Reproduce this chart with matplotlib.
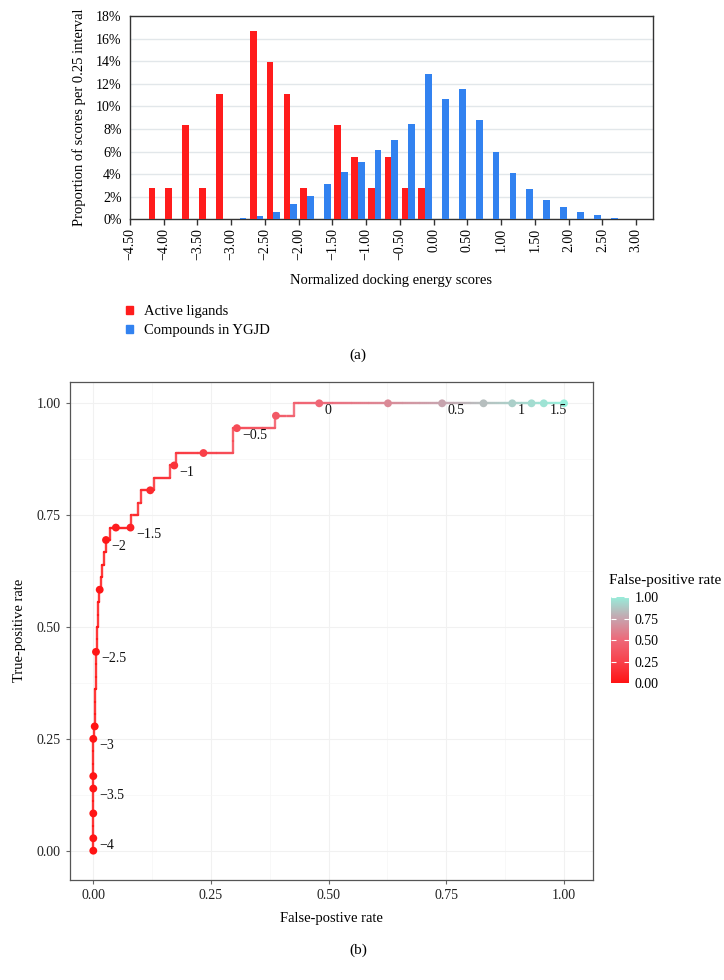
import numpy as np
import matplotlib
matplotlib.use('Agg')
import matplotlib.pyplot as plt
from matplotlib.colors import LinearSegmentedColormap
from matplotlib.collections import LineCollection
from matplotlib.patches import Patch

plt.rcParams['font.family'] = ['Liberation Serif', 'DejaVu Serif']

# ---- (a) histogram, 0.25 wide bins given by their lower edge ----
active_bins = [-4.25, -4.00, -3.75, -3.50, -3.25, -2.75, -2.50, -2.25, -2.00,
               -1.50, -1.25, -1.00, -0.75, -0.50, -0.25]
active_pct = [2.78, 2.78, 8.33, 2.78, 11.11, 16.67, 13.89, 11.11, 2.78,
              8.33, 5.56, 2.78, 5.56, 2.78, 2.78]
ygjd_bins = [-3.00, -2.75, -2.50, -2.25, -2.00, -1.75, -1.50, -1.25, -1.00, -0.75,
             -0.50, -0.25, 0.00, 0.25, 0.50, 0.75, 1.00, 1.25, 1.50, 1.75,
             2.00, 2.25, 2.50, 2.75]
ygjd_pct = [0.14, 0.29, 0.67, 1.38, 2.09, 3.12, 4.19, 5.04, 6.10, 7.04,
            8.43, 12.86, 10.67, 11.50, 8.79, 5.93, 4.10, 2.68, 1.68, 1.09,
            0.67, 0.38, 0.14, 0.03]
hist_ticks = [-4.5, -4.0, -3.5, -3.0, -2.5, -2.0, -1.5, -1.0, -0.5,
              0.0, 0.5, 1.0, 1.5, 2.0, 2.5, 3.0]
hist_ticklabels = ['\u22124.50', '\u22124.00', '\u22123.50', '\u22123.00', '\u22122.50',
                   '\u22122.00', '\u22121.50', '\u22121.00', '\u22120.50', '0.00',
                   '0.50', '1.00', '1.50', '2.00', '2.50', '3.00']
pct_ticks = [0, 2, 4, 6, 8, 10, 12, 14, 16, 18]

# ---- (b) ROC curve ----
n_active = 36
# false-positive rate at which each active ligand is recovered
step_fpr = [0, 0, 0, 0, 0, 0, 0, 0, 0, 0.002, 0.0035, 0.004, 0.0045, 0.005,
            0.0053, 0.0056, 0.007, 0.008, 0.010, 0.011, 0.013, 0.016, 0.019,
            0.022, 0.026, 0.036, 0.081, 0.095, 0.102, 0.130, 0.162, 0.175,
            0.296, 0.296, 0.386, 0.426]
# cutoff points (-4.25 ... 1.75 every 0.25)
point_fpr = [0, 0, 0, 0, 0, 0, 0.003, 0.0057, 0.0136, 0.027, 0.048, 0.079,
             0.121, 0.172, 0.234, 0.305, 0.388, 0.480, 0.626, 0.741, 0.829,
             0.890, 0.931, 0.957, 1.0]
point_tp = [0, 1, 3, 5, 6, 9, 10, 16, 21, 25, 26, 26, 29, 31, 32, 34, 35,
            36, 36, 36, 36, 36, 36, 36, 36]
point_labels = ['', '\u22124', '', '\u22123.5', '', '\u22123', '', '\u22122.5', '',
                '\u22122', '', '\u22121.5', '', '\u22121', '', '\u22120.5', '',
                '0', '', '0.5', '', '1', '', '1.5', '']
roc_ticks = [0, 0.25, 0.5, 0.75, 1.0]
roc_ticklabels = ['0.00', '0.25', '0.50', '0.75', '1.00']

red = '#ff1c1c'
blue = '#3282f0'
fpr_cmap = LinearSegmentedColormap.from_list(
  'fpr', [(0, '#ff1414'), (0.25, '#f8424c'), (0.5, '#ee6a7a'), (0.75, '#c6a6b0'), (1, '#96f0dc')])

W, H = 724, 980
fig = plt.figure(figsize=(W/100., H/100.), dpi=100)

def px_axes(l, t, r, b):
  return fig.add_axes([l/float(W), 1-b/float(H), (r-l)/float(W), (b-t)/float(H)])

# ================= (a) =================
ax = px_axes(130, 16, 653, 219.3)
ax.bar(np.array(active_bins)+0.125-0.05, active_pct, width=0.1, color=red, zorder=3)
ax.bar(np.array(ygjd_bins)+0.125+0.05, ygjd_pct, width=0.1, color=blue, zorder=3)
ax.set_xlim(-4.5, 3.25)
ax.set_ylim(0, 18)
ax.set_yticks(pct_ticks)
ax.set_yticklabels(['%d%%' % v for v in pct_ticks])
ax.set_xticks(hist_ticks)
ax.set_xticklabels(hist_ticklabels, rotation=90)
ax.yaxis.grid(True, color='#e2e7ea', lw=1, zorder=0)
ax.set_axisbelow(True)
for s in ax.spines.values():
  s.set_color('#333333'); s.set_linewidth(1)
ax.tick_params(axis='x', length=4, width=1, color='#333333', labelsize=10, pad=2)
ax.tick_params(axis='y', length=0, labelsize=10, pad=6)
ax.set_ylabel('Proportion of scores per 0.25 interval', fontsize=10.5, labelpad=7)
ax.set_xlabel('Normalized docking energy scores', fontsize=10.5, labelpad=10)

fig.legend(handles=[Patch(color=red, label='Active ligands'),
                    Patch(color=blue, label='Compounds in YGJD')],
           loc='upper left', bbox_to_anchor=(126/float(W), 1-305/float(H)),
           frameon=False, fontsize=10.5, handlelength=0.5, handleheight=0.5,
           handletextpad=0.75, labelspacing=0.4, borderpad=0, borderaxespad=0)
fig.text(358/float(W), 1-355/float(H), '(a)', fontsize=11, ha='center', va='center')

# ================= (b) =================
ax2 = px_axes(70, 381.7, 593, 880)
# step path of the ROC curve
vx = [0.0]; vy = [0.0]
for i, f in enumerate(step_fpr):
  vx += [f, f]; vy += [i/float(n_active), (i+1)/float(n_active)]
vx.append(1.0); vy.append(1.0)
segs = []; cols = []
for x0, y0, x1, y1 in zip(vx[:-1], vy[:-1], vx[1:], vy[1:]):
  n = max(1, int(abs(x1-x0)/0.004))
  xs = np.linspace(x0, x1, n+1); ys = np.linspace(y0, y1, n+1)
  for j in range(n):
    segs.append([(xs[j], ys[j]), (xs[j+1], ys[j+1])])
    cols.append(fpr_cmap((xs[j]+xs[j+1])/2.))
lc = LineCollection(segs, colors=cols, linewidths=1.7, alpha=0.85, capstyle='round', zorder=2)
ax2.add_collection(lc)
point_tpr = np.array(point_tp)/float(n_active)
ax2.scatter(point_fpr, point_tpr, c=point_fpr, cmap=fpr_cmap, vmin=0, vmax=1,
            s=32, edgecolors='none', zorder=3)
for f, t, l in zip(point_fpr, point_tpr, point_labels):
  if l:
    ax2.annotate(l, (f, t), xytext=(4, -5), textcoords='offset points',
                 ha='left', va='center', fontsize=10, color='#111111')
ax2.set_xlim(-0.0495, 1.0616)
ax2.set_ylim(-0.0655, 1.0483)
ax2.set_xticks(roc_ticks); ax2.set_xticklabels(roc_ticklabels)
ax2.set_yticks(roc_ticks); ax2.set_yticklabels(roc_ticklabels)
ax2.set_xticks([0.125, 0.375, 0.625, 0.875], minor=True)
ax2.set_yticks([0.125, 0.375, 0.625, 0.875], minor=True)
ax2.grid(True, which='major', color='#f1f1f1', lw=0.8, zorder=0)
ax2.grid(True, which='minor', color='#f6f6f6', lw=0.5, zorder=0)
ax2.tick_params(which='minor', length=0)
ax2.tick_params(which='major', length=3, width=0.8, color='#666666', labelsize=10, labelcolor='#222222')
for s in ax2.spines.values():
  s.set_color('#555555'); s.set_linewidth(0.9)
ax2.set_xlabel('False-postive rate', fontsize=10.5, labelpad=7)
ax2.set_ylabel('True-positive rate', fontsize=10.5, labelpad=8)
fig.text(358/float(W), 1-950/float(H), '(b)', fontsize=11, ha='center', va='center')

# colour legend
cax = px_axes(610.7, 597.3, 628.7, 683.5)
cax.imshow(np.linspace(0, 1, 256).reshape(-1, 1), cmap=fpr_cmap, aspect='auto',
           origin='lower', extent=(0, 1, 0, 1))
cax.set_xlim(0, 1); cax.set_ylim(0, 1)
cax.set_xticks([])
cax.set_yticks(roc_ticks); cax.set_yticklabels(roc_ticklabels)
cax.yaxis.tick_right()
cax.tick_params(axis='y', direction='in', left=True, right=True, length=3.5,
                color='white', width=0.8, labelsize=10, pad=4)
for s in cax.spines.values():
  s.set_visible(False)
fig.text(609/float(W), 1-580.7/float(H), 'False-positive rate', fontsize=11, ha='left', va='center')

plt.savefig('out.png', dpi=100)
